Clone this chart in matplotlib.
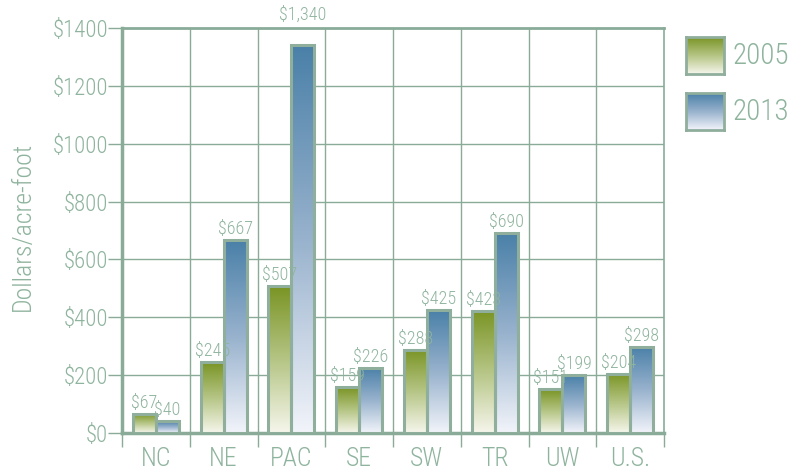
import matplotlib
matplotlib.use("Agg")
import matplotlib.pyplot as plt
import numpy as np
from matplotlib.colors import LinearSegmentedColormap
from matplotlib.patches import Rectangle
import logging
logging.getLogger('matplotlib.font_manager').setLevel(logging.ERROR)

categories = ["NC", "NE", "PAC", "SE", "SW", "TR", "UW", "U.S."]
values_2005 = [67, 245, 507, 159, 288, 423, 151, 204]
values_2013 = [40, 667, 1340, 226, 425, 690, 199, 298]
series_names = ["2005", "2013"]
yticks = [0, 200, 400, 600, 800, 1000, 1200, 1400]

plt.rcParams['font.family'] = ['Roboto Condensed', 'Archivo Narrow', 'DejaVu Sans']
plt.rcParams['font.weight'] = 'light'

TXT = '#8fb49e'
GRID = '#8aab98'
EDGE = '#8fae9c'
green_cmap = LinearSegmentedColormap.from_list('g', ['#f6f6ec', '#b5c585', '#7a9424'])
blue_cmap = LinearSegmentedColormap.from_list('b', ['#f2f4fa', '#98b2cd', '#4a80a8'])

fig = plt.figure(figsize=(7.92, 4.71), dpi=100)
ax = fig.add_axes([122/792, 1-433/471, (664-122)/792, (433-28)/471])
ax.set_xlim(0, len(categories))
ax.set_ylim(0, 1400)

for yv in yticks[1:-1]:
    ax.axhline(yv, color=GRID, lw=1.0, zorder=1)
for i in range(1, len(categories)):
    ax.axvline(i, color=GRID, lw=1.0, zorder=1)

bw = 0.34
x = np.arange(len(categories))

def grad_bars(xpos, vals, cmap):
    bars = ax.bar(xpos, vals, width=bw, align='edge', facecolor='none',
                  edgecolor=EDGE, linewidth=2.2, zorder=4)
    grad = np.linspace(0, 1, 256).reshape(-1, 1)
    for b in bars:
        x0, w, h = b.get_x(), b.get_width(), b.get_height()
        im = ax.imshow(grad, cmap=cmap, origin='lower', aspect='auto',
                       extent=[x0, x0 + w, 0, h], zorder=3, interpolation='bilinear')
        clip = Rectangle((x0, 0), w, h, transform=ax.transData)
        im.set_clip_path(clip)
    return bars

b1 = grad_bars(x + 0.5 - bw, values_2005, green_cmap)
b2 = grad_bars(x + 0.5, values_2013, blue_cmap)
ax.set_xlim(0, len(categories))
ax.set_ylim(0, 1400)

ymax = yticks[-1]
for bars, vals in ((b1, values_2005), (b2, values_2013)):
    for b, v in zip(bars, vals):
        if v > ymax - 100:
            pos, off = ymax, 3
        else:
            pos, off = v, 1.5
        ax.annotate(f"${v:,}", (b.get_x() + b.get_width()/2, pos), xytext=(0, off),
                    textcoords='offset points', ha='center', va='bottom',
                    color=TXT, fontsize=13, zorder=6, clip_on=False)

for s in ax.spines.values():
    s.set_color(GRID)
ax.spines['left'].set_linewidth(2.5)
ax.spines['bottom'].set_linewidth(2.5)
ax.spines['top'].set_linewidth(2.0)
ax.spines['right'].set_linewidth(1.2)

ax.set_yticks(yticks)
ax.set_yticklabels([f"${t}" for t in yticks])
ax.tick_params(axis='y', length=10, width=1, color=GRID, labelcolor=TXT,
               labelsize=16.5, pad=0)
ax.set_xticks(x + 0.5)
ax.set_xticklabels(categories)
ax.tick_params(axis='x', which='major', length=0, labelcolor=TXT, labelsize=18.5, pad=10)
ax.set_xticks(np.arange(0, len(categories) + 1), minor=True)
ax.tick_params(axis='x', which='minor', length=10, width=1, color=GRID)

fig.text(23/792, 1-226/471, "Dollars/acre-foot", rotation=90, ha='center', va='center',
         color=TXT, fontsize=18.5)

for i, (name, cmap) in enumerate(zip(series_names, [green_cmap, blue_cmap])):
    top = 37 + i * 56
    lax = fig.add_axes([686/792, 1-(top+37)/471, 38/792, 37/471])
    lax.imshow(np.linspace(0, 1, 256).reshape(-1, 1), cmap=cmap, origin='lower',
               aspect='auto', extent=[0, 1, 0, 1])
    lax.set_xticks([]); lax.set_yticks([])
    for s in lax.spines.values():
        s.set_color(EDGE); s.set_linewidth(2.0)
    fig.text(732/792, 1-(top+19)/471, name, ha='left', va='center', color=TXT, fontsize=21)

fig.savefig("out.png", dpi=100)
